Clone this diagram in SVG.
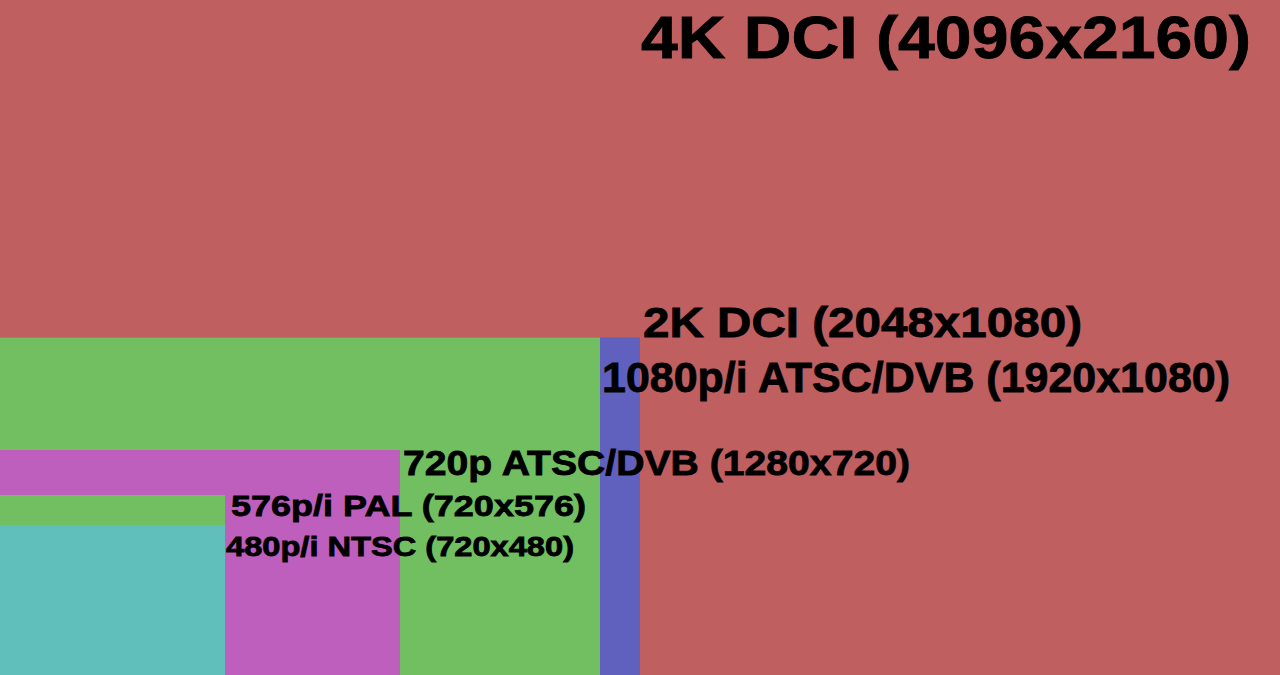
<svg xmlns="http://www.w3.org/2000/svg" width="1280" height="675" viewBox="0 0 1280 675">
<style>
text{font-family:"Liberation Sans",Arial,sans-serif;font-weight:bold;fill:#000;stroke:#000;stroke-width:0.8}
.r{fill:#bf5f5f}.b{fill:#6060be}.g{fill:#71bf60}.m{fill:#be5fbe}.c{fill:#60bfbb}
</style>
<g id="k4"><rect class="r" x="0" y="0" width="1280" height="675"/></g>
<g id="k2"><rect class="b" x="0" y="337.5" width="640" height="337.5"/></g>
<g id="p1080"><rect class="g" x="0" y="337.5" width="600" height="337.5"/></g>
<g id="p720"><rect class="m" x="0" y="450" width="400" height="225"/></g>
<g id="p576"><rect class="g" x="0" y="495" width="225" height="180"/></g>
<g id="p480"><rect class="c" x="0" y="525" width="225" height="150"/></g>
<g id="labels">
<text x="641" y="58" font-size="60" textLength="610" lengthAdjust="spacingAndGlyphs">4K DCI (4096x2160)</text>
<text x="643" y="337" font-size="42" textLength="439" lengthAdjust="spacingAndGlyphs">2K DCI (2048x1080)</text>
<text x="602" y="392" font-size="42" textLength="628" lengthAdjust="spacingAndGlyphs">1080p/i ATSC/DVB (1920x1080)</text>
<text x="403" y="475" font-size="35" textLength="507" lengthAdjust="spacingAndGlyphs">720p ATSC/DVB (1280x720)</text>
<text x="231" y="516" font-size="30" textLength="355" lengthAdjust="spacingAndGlyphs">576p/i PAL (720x576)</text>
<text x="226" y="556" font-size="27" textLength="348" lengthAdjust="spacingAndGlyphs">480p/i NTSC (720x480)</text>
</g>
</svg>
